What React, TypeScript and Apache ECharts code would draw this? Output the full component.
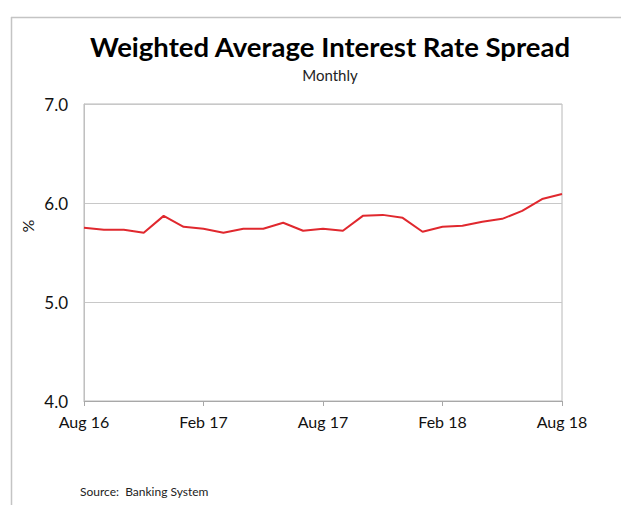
import React, { useEffect, useRef } from "react";
import * as echarts from "echarts";

const categories = [
  "Aug 16", "Sep 16", "Oct 16", "Nov 16", "Dec 16", "Jan 17", "Feb 17",
  "Mar 17", "Apr 17", "May 17", "Jun 17", "Jul 17", "Aug 17", "Sep 17",
  "Oct 17", "Nov 17", "Dec 17", "Jan 18", "Feb 18", "Mar 18", "Apr 18",
  "May 18", "Jun 18", "Jul 18", "Aug 18",
];
const spread = [
  5.75, 5.73, 5.73, 5.7, 5.87, 5.76, 5.74, 5.7, 5.74, 5.74, 5.8, 5.72, 5.74,
  5.72, 5.87, 5.88, 5.85, 5.71, 5.76, 5.77, 5.81, 5.84, 5.92, 6.04, 6.09,
];
const yTicks = { min: 4, max: 7, interval: 1 };

const FONT = "Lato, 'Noto Sans', sans-serif";

export default function App() {
  const ref = useRef<HTMLDivElement>(null);
  useEffect(() => {
    if (!ref.current) return;
    const chart = echarts.init(ref.current, undefined, { renderer: "svg" });
    chart.setOption({
      animation: false,
      backgroundColor: "#ffffff",
      title: {
        text: "Weighted Average Interest Rate Spread",
        subtext: "Monthly",
        left: 325,
        textAlign: "center",
        top: 27,
        itemGap: 7,
        textStyle: { fontFamily: FONT, fontSize: 27.5, fontWeight: "bold", color: "#000" },
        subtextStyle: { fontFamily: FONT, fontSize: 15, color: "#222" },
      },
      grid: {
        left: 84,
        right: 59,
        top: 104,
        bottom: 104,
        show: true,
        borderColor: "#b8b8b8",
        borderWidth: 1,
      },
      xAxis: {
        type: "category",
        data: categories,
        boundaryGap: false,
        axisLine: { show: true, lineStyle: { color: "#a8a8a8", width: 1 } },
        axisTick: { show: true, interval: 5, length: 5, lineStyle: { color: "#a8a8a8" } },
        axisLabel: {
          interval: 5,
          fontFamily: FONT,
          fontSize: 16,
          color: "#111",
          margin: 12,
        },
        splitLine: { show: false },
      },
      yAxis: {
        type: "value",
        min: yTicks.min,
        max: yTicks.max,
        interval: yTicks.interval,
        axisLine: { show: true, lineStyle: { color: "#c0c0c0" } },
        axisTick: { show: false },
        axisLabel: {
          fontFamily: FONT,
          fontSize: 17,
          color: "#111",
          margin: 16,
          formatter: (v: number) => v.toFixed(1),
        },
        splitLine: { show: true, lineStyle: { color: "#c8c8c8", width: 1 } },
      },
      series: [
        {
          type: "line",
          data: spread,
          showSymbol: false,
          symbol: "none",
          lineStyle: { color: "#e0282e", width: 2 },
        },
      ],
      graphic: [
        {
          type: "line",
          shape: { x1: 11, y1: 17.5, x2: 621, y2: 17.5 },
          style: { stroke: "#c4c4c4", lineWidth: 1.5 },
        },
        {
          type: "line",
          shape: { x1: 11.5, y1: 17, x2: 11.5, y2: 505 },
          style: { stroke: "#c4c4c4", lineWidth: 1.5 },
        },
        {
          type: "text",
          x: 27,
          y: 226,
          rotation: Math.PI / 2,
          style: {
            text: "%",
            fontFamily: FONT,
            fontSize: 16,
            fill: "#111",
            textAlign: "center",
            textVerticalAlign: "middle",
          },
        },
        {
          type: "text",
          x: 80,
          y: 491,
          style: {
            text: "Source:  Banking System",
            fontFamily: FONT,
            fontSize: 12,
            fill: "#222",
            textVerticalAlign: "middle",
          },
        },
      ],
    });
    return () => chart.dispose();
  }, []);
  return (
    <div
      ref={ref}
      style={{ position: "fixed", left: 0, top: 0, width: 621, height: 505 }}
    />
  );
}
